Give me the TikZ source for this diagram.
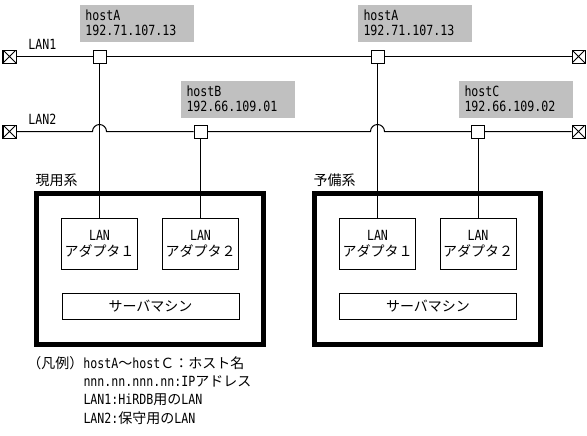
\documentclass[tikz,border=0pt]{standalone}
\usepackage{fontspec}
\setmainfont{DejaVu Sans Mono}[FakeStretch=0.83]
\newfontfamily\jp{Noto Sans CJK JP}
\definecolor{labelgray}{RGB}{192,192,192}
\begin{document}
\begin{tikzpicture}[x=0.75pt,y=-0.75pt,
  font=\fontsize{10.5pt}{12pt}\selectfont,
  every path/.style={line width=0.75pt},
  term/.style={draw, fill=white, minimum size=9.75pt, inner sep=0pt,
    path picture={\draw[line width=0.6pt] (path picture bounding box.north west) -- (path picture bounding box.south east)
      (path picture bounding box.south west) -- (path picture bounding box.north east);}},
  tap/.style={draw, fill=white, minimum size=9.75pt, inner sep=0pt},
  hostlbl/.style={fill=labelgray, anchor=north west, minimum width=85.5pt, minimum height=27.75pt,
    text width=76.5pt, inner xsep=4.5pt, inner ysep=0pt, align=left,
    font=\fontsize{10.5pt}{11.25pt}\selectfont},
  sysbox/.style={draw, line width=3.75pt, minimum height=113.25pt, inner sep=0pt},
  adapter/.style={draw, minimum width=57pt, minimum height=38.25pt, inner sep=0pt, align=center,
    font=\fontsize{10.5pt}{12pt}\selectfont},
  server/.style={draw, minimum width=132.75pt, minimum height=19.5pt, inner sep=0pt},
  txt/.style={anchor=west, inner sep=0pt}
]
\useasboundingbox (0,0) rectangle (587,436);

% system boxes
\node[sysbox, minimum width=170.25pt] (sys1) at (150,269) {};
\node[sysbox, minimum width=169.5pt] (sys2) at (427.5,269) {};
\node[txt] (lsys1) at (35,180) {\jp 現用系};
\node[txt] (lsys2) at (313,180) {\jp 予備系};

% adapters and servers
\node[adapter] (ad1) at (99.5,243.5) {LAN\\{\jp アダプタ１}};
\node[adapter] (ad2) at (200.5,243.5) {LAN\\{\jp アダプタ２}};
\node[server] (sv1) at (150.5,306) {\jp サーバマシン};
\node[adapter] (ad3) at (377.5,243.5) {LAN\\{\jp アダプタ１}};
\node[adapter] (ad4) at (478,243.5) {LAN\\{\jp アダプタ２}};
\node[server] (sv2) at (428,306) {\jp サーバマシン};

% host labels
\node[hostlbl] (la1) at (79,4) {hostA\\192.71.107.13};
\node[hostlbl] (la2) at (357,4) {hostA\\192.71.107.13};
\node[hostlbl] (lb) at (180,80) {hostB\\192.66.109.01};
\node[hostlbl] (lc) at (458,80) {hostC\\192.66.109.02};

% LAN labels
\node[txt] (lan1) at (28,44) {LAN1};
\node[txt] (lan2) at (28,119) {LAN2};

% terminators and taps
\node[term] (tl1) at (9.5,56.5) {};
\node[term] (tr1) at (578.5,56.5) {};
\node[term] (tl2) at (9.5,131.5) {};
\node[term] (tr2) at (578.5,131.5) {};
\node[tap] (a1) at (99.5,56.5) {};
\node[tap] (a2) at (377.5,56.5) {};
\node[tap] (b) at (200.5,131.5) {};
\node[tap] (c) at (478,131.5) {};

\coordinate (h1) at (92.5,131.5);
\coordinate (h2) at (370.5,131.5);

% LAN lines
\draw (tl1) -- (a1) -- (a2) -- (tr1);
\draw (tl2) -- (h1) arc[start angle=180, end angle=360, radius=7] -- (b) -- (h2) arc[start angle=180, end angle=360, radius=7] -- (c) -- (tr2);

% drops
\draw (a1) -- (ad1.north);
\draw (b) -- (ad2.north);
\draw (a2) -- (ad3.north);
\draw (c) -- (ad4.north);

% legend
\node[txt] (lg1) at (27,363) {{\jp （凡例）}hostA{\jp ～}host{\jp Ｃ：ホスト名}};
\node[txt] (lg2) at (83,381.5) {nnn.nn.nnn.nn:IP{\jp アドレス}};
\node[txt] (lg3) at (83,400) {LAN1:HiRDB{\jp 用の}LAN};
\node[txt] (lg4) at (83,418.5) {LAN2:{\jp 保守用の}LAN};
\end{tikzpicture}
\end{document}
